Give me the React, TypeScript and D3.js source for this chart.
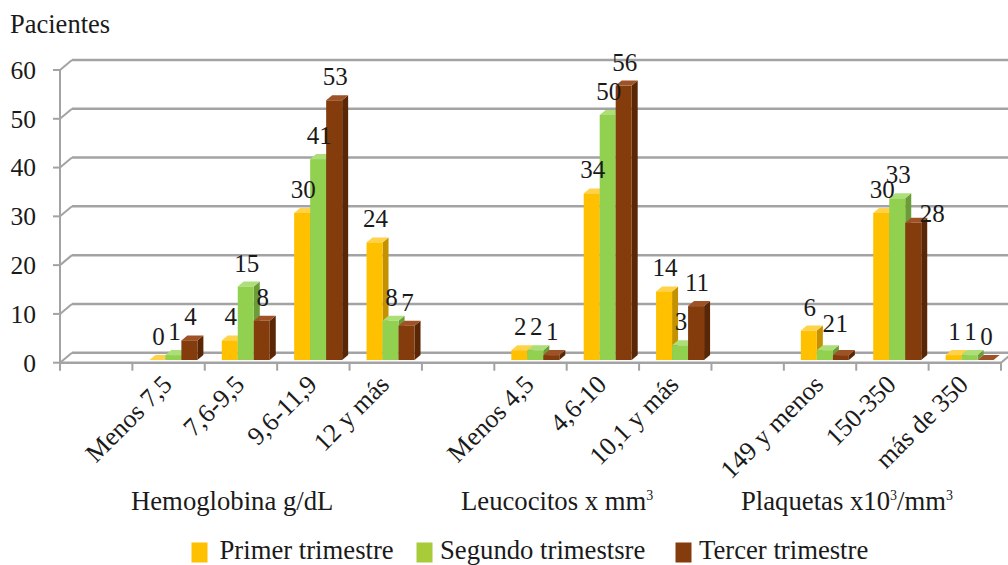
import React from "react";
import * as d3 from "d3";

// Patient counts per lab-value range, by pregnancy trimester
const categories = [
  "Menos 7,5", "7,6-9,5", "9,6-11,9", "12 y más",
  "Menos 4,5", "4,6-10", "10,1 y más",
  "149 y menos", "150-350", "más de 350",
];
const groupOf = [0, 0, 0, 0, 1, 1, 1, 2, 2, 2];
const primer = [0, 4, 30, 24, 2, 34, 14, 6, 30, 1];
const segundo = [1, 15, 41, 8, 2, 50, 3, 2, 33, 1];
const tercer = [4, 8, 53, 7, 1, 56, 11, 1, 28, 0];
const seriesNames = ["Primer trimestre", "Segundo trimestsre", "Tercer trimestre"];
const yTicks = [0, 10, 20, 30, 40, 50, 60];

const W = 1008;
const H = 565;

// front / side / top face colours of each series
const faces = [
  { front: "#FFC000", side: "#C49200", top: "#FFD24A", legend: "#FFC000" },
  { front: "#92D050", side: "#6C9C38", top: "#ADDF78", legend: "#A8CB3A" },
  { front: "#843C0C", side: "#5A2706", top: "#9E5226", legend: "#843C0C" },
];

// slot sequence: a spacer before each parameter group
const slots: string[] = [];
categories.forEach((c, i) => {
  if (i === 0 || groupOf[i] !== groupOf[i - 1]) slots.push(`__gap${groupOf[i]}`);
  slots.push(c);
});

const x = d3.scaleBand<string>().domain(slots).range([60, 1001]).padding(0);
const yAxis = d3.scaleLinear().domain([0, 60]).range([362.7, 70]);
const yBar = d3.scaleLinear().domain([0, 60]).range([360, 66]);

const DEPTH_X = 12;
const DEPTH_Y = -10;
const BAR_DX = 6;
const BAR_DY = -5;

const groupTitles = [
  { x: 131, parts: [{ t: "Hemoglobina g/dL" }] },
  { x: 461, parts: [{ t: "Leucocitos x mm" }, { t: "3", sup: true }] },
  { x: 741, parts: [{ t: "Plaquetas x10" }, { t: "3", sup: true }, { t: "/mm" }, { t: "3", sup: true }] },
];

// label nudges where values would collide with neighbouring bars
const labelNudge: Record<string, [number, number]> = {
  "1-7": [3, -3],
  "2-7": [0, -8],
  "2-8": [18, 14],
};

export default function App() {
  const seriesValues = [primer, segundo, tercer];
  const inner = d3.scaleBand<number>().domain([0, 1, 2]);

  const bars: React.ReactNode[] = [];
  const labels: React.ReactNode[] = [];
  categories.forEach((cat, ci) => {
    const x0 = (x(cat) as number) + 17;
    inner.range([x0, x0 + 48]);
    seriesValues.forEach((vals, si) => {
      const v = vals[ci];
      const bx = inner(si) as number;
      const bw = inner.bandwidth();
      const yt = yBar(v);
      const yb = yBar(0);
      const f = faces[si];
      bars.push(
        <g key={`b-${ci}-${si}`}>
          <path
            d={`M${bx + bw},${yt} L${bx + bw + BAR_DX},${yt + BAR_DY} L${bx + bw + BAR_DX},${yb + BAR_DY} L${bx + bw},${yb} Z`}
            fill={f.side}
          />
          <path
            d={`M${bx},${yt} L${bx + BAR_DX},${yt + BAR_DY} L${bx + bw + BAR_DX},${yt + BAR_DY} L${bx + bw},${yt} Z`}
            fill={f.top}
          />
          <rect x={bx} y={yt} width={bw} height={yb - yt} fill={f.front} />
        </g>
      );
      const n = labelNudge[`${si}-${ci}`] || [0, 0];
      labels.push(
        <text
          key={`l-${ci}-${si}`}
          x={bx + bw / 2 + 1 + n[0]}
          y={yt - 15 + n[1]}
          textAnchor="middle"
          fontSize={25}
          fill="#1a1a1a"
        >
          {v}
        </text>
      );
    });
  });

  const gridColor = "#a3a3a3";

  return (
    <div style={{ position: "absolute", left: 0, top: 0 }}>
      <svg width={W} height={H} style={{ display: "block", background: "#fff" }}>
        <style>{`text { font-family: "Liberation Serif", "Times New Roman", serif; }`}</style>
        <text x={10} y={33} fontSize={26.5} fill="#1a1a1a">Pacientes</text>

        {/* back wall gridlines with the depth diagonals to the front axis */}
        {yTicks.map((t) => {
          const yf = yAxis(t);
          return (
            <g key={`g-${t}`}>
              <line x1={60 + DEPTH_X} x2={W + 20} y1={yf + DEPTH_Y} y2={yf + DEPTH_Y} stroke={gridColor} strokeWidth={2.5} />
              <line x1={60} y1={yf} x2={60 + DEPTH_X} y2={yf + DEPTH_Y} stroke={gridColor} strokeWidth={2} />
              <line x1={53} x2={60} y1={yf} y2={yf} stroke={gridColor} strokeWidth={2} />
              <text x={36} y={yf} dy="0.35em" textAnchor="end" fontSize={25.5} fill="#1a1a1a">{t}</text>
            </g>
          );
        })}

        {/* vertical axis and floor edge */}
        <line x1={60} x2={60} y1={yAxis(60)} y2={yAxis(0)} stroke={gridColor} strokeWidth={2} />
        <line x1={60} x2={1001} y1={yAxis(0)} y2={yAxis(0)} stroke={gridColor} strokeWidth={2.5} />
        <line x1={1001} y1={yAxis(0)} x2={1001 + DEPTH_X} y2={yAxis(0) + DEPTH_Y} stroke={gridColor} strokeWidth={2} />
        {slots.map((s) => (
          <line key={`t-${s}`} x1={x(s)} x2={x(s)} y1={yAxis(0)} y2={yAxis(0) + 8} stroke={gridColor} strokeWidth={2} />
        ))}
        <line x1={1001} x2={1001} y1={yAxis(0)} y2={yAxis(0) + 8} stroke={gridColor} strokeWidth={2} />

        {bars}
        {labels}

        {/* rotated category labels */}
        {categories.map((c) => {
          const cx = (x(c) as number) + x.bandwidth() / 2 + 5;
          const cy = 386;
          return (
            <text
              key={`c-${c}`}
              x={cx}
              y={cy}
              transform={`rotate(-45 ${cx} ${cy})`}
              textAnchor="end"
              fontSize={26}
              fill="#1a1a1a"
            >
              {c}
            </text>
          );
        })}

        {/* parameter group titles */}
        {groupTitles.map((g, i) => (
          <text key={`gt-${i}`} x={g.x} y={510} fontSize={26.7} fill="#1a1a1a">
            {g.parts.map((p, j) =>
              p.sup ? (
                <tspan key={j} fontSize={14} dy={-10}>{p.t}</tspan>
              ) : (
                <tspan key={j} dy={j > 0 && g.parts[j - 1].sup ? 10 : 0}>{p.t}</tspan>
              )
            )}
          </text>
        ))}

        {/* legend */}
        {seriesNames.map((s, i) => {
          const lx = [191.5, 416.5, 675.5][i];
          return (
            <g key={`lg-${i}`}>
              <rect x={lx} y={542.5} width={16} height={20} fill={faces[i].legend} />
              <text x={lx + (i === 0 ? 28 : 23.5)} y={559} fontSize={26.7} fill="#1a1a1a">{s}</text>
            </g>
          );
        })}
      </svg>
    </div>
  );
}
